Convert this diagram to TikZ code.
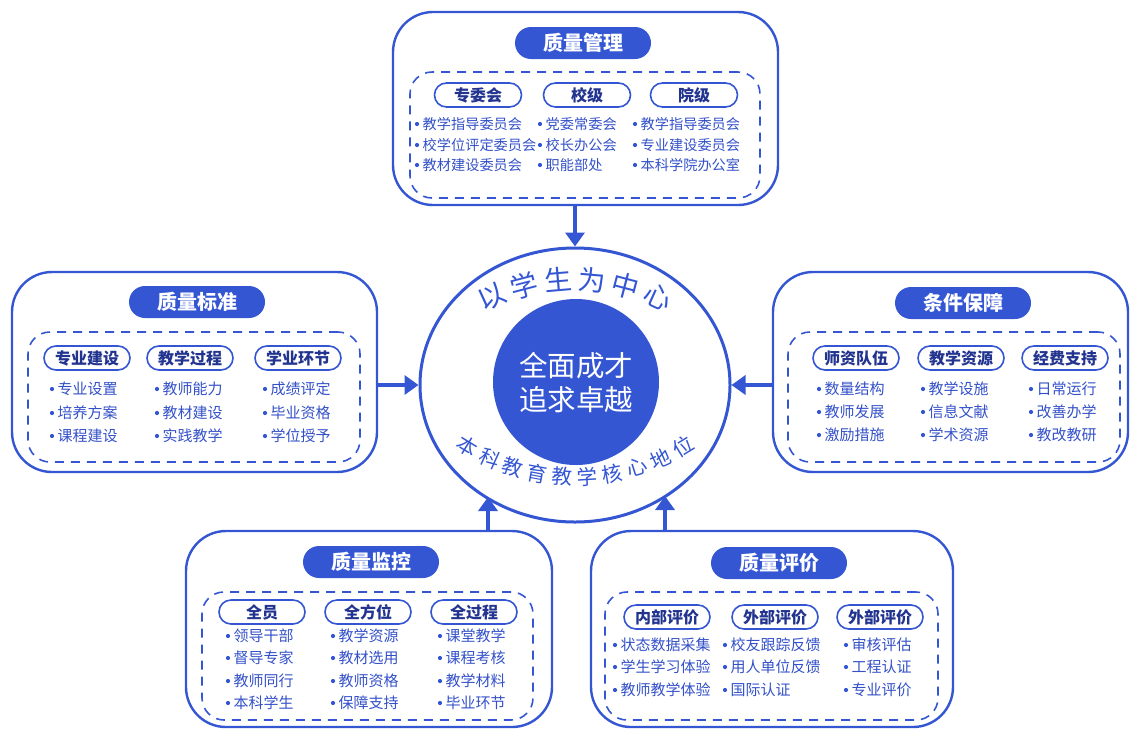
\documentclass[tikz,border=0pt]{standalone}
\usepackage{fontspec}
\newfontfamily\cjk{Noto Sans CJK SC}
\usetikzlibrary{shapes.geometric,arrows.meta}
\definecolor{qb}{HTML}{3456D3}
\definecolor{qt}{HTML}{3350C8}
\definecolor{qd}{HTML}{22348F}
\tikzset{
  outer/.style={draw=qb, line width=2.4pt, rounded corners=40pt, inner sep=0pt},
  inner/.style={draw=qb, line width=1.6pt, dash pattern=on 9pt off 7pt, rounded corners=22pt, inner sep=0pt},
  ttl/.style={fill=qb, text=white, rounded corners=16pt, minimum width=136pt, minimum height=32pt, inner sep=0pt, font=\cjk\bfseries\fontsize{20}{20}\selectfont},
  sub/.style={draw=qb, fill=white, text=qd, line width=1.6pt, rounded corners=12pt, minimum width=86pt, minimum height=24pt, inner sep=0pt, font=\cjk\bfseries\fontsize{16}{16}\selectfont},
  item/.style={anchor=west, text=qt, inner sep=0pt, font=\cjk\fontsize{15}{15}\selectfont},
  items/.style={item, font=\cjk\fontsize{14.2}{14.2}\selectfont},
  arr/.style={draw=qb, line width=3.5pt, -{Triangle[length=14pt,width=19pt]}},
  arct/.style={text=qb, inner sep=-1pt, font=\cjk\fontsize{27.5}{27.5}\selectfont},
  arcb/.style={text=qb, inner sep=-1.5pt, font=\cjk\fontsize{20.5}{20.5}\selectfont}
}
\newcommand\itm[5][item]{\fill[qb] (#3,#4) circle (2.1pt); \node[#1] (#2) at ({#3+5.5},#4) {#5};}
\begin{document}
\begin{tikzpicture}[x=1pt,y=-1pt]
\useasboundingbox (0,0) rectangle (1131,729);
% ---------- center ----------
\node[draw=qb, line width=3pt, ellipse, minimum width=310pt, minimum height=274pt, inner sep=0pt] (e) at (575,385) {};
\node[circle, fill=qb, minimum size=166pt, inner sep=0pt] (c) at (576,382) {};
\node[text=white, align=center, inner sep=0pt, font=\cjk\fontsize{28.5}{34}\selectfont] (ct) at (576,383) {全面成才\\追求卓越};
\foreach \ch [count=\i] in {以,学,生,为,中,心}{
  \pgfmathsetmacro\a{-24.5+9.8*(\i-1)}
  \node[arct, rotate=-\a] (t\i) at ({575+200*sin(\a)},{479-200*cos(\a)}) {\ch};
}
\foreach \ch [count=\i] in {本,科,教,育,教,学,核,心,地,位}{
  \pgfmathsetmacro\a{-31.5+7*(\i-1)}
  \node[arcb, rotate=\a] (b\i) at ({575+206*sin(\a)},{271+206*cos(\a)}) {\ch};
}
% ---------- top: 质量管理 ----------
\node[outer, minimum width=385pt, minimum height=193pt] (top) at (585.5,108.5) {};
\node[inner, minimum width=350pt, minimum height=126pt] (topd) at (585,135) {};
\node[ttl] (topt) at (583,43) {质量管理};
\node[sub, minimum width=87pt] (tops1) at (478,95) {专委会};
\node[sub, minimum width=87pt] (tops2) at (587,95) {校级};
\node[sub, minimum width=87pt] (tops3) at (694,95) {院级};
\itm[items]{ta1}{417}{124}{教学指导委员会}
\itm[items]{ta2}{417}{145}{校学位评定委员会}
\itm[items]{ta3}{417}{165}{教材建设委员会}
\itm[items]{tb1}{540}{124}{党委常委会}
\itm[items]{tb2}{540}{145}{校长办公会}
\itm[items]{tb3}{540}{165}{职能部处}
\itm[items]{tc1}{635}{124}{教学指导委员会}
\itm[items]{tc2}{635}{145}{专业建设委员会}
\itm[items]{tc3}{635}{165}{本科学院办公室}
% ---------- left: 质量标准 ----------
\node[outer, minimum width=365pt, minimum height=200pt] (lft) at (194.5,372) {};
\node[inner, minimum width=332pt, minimum height=130pt] (lftd) at (194,397) {};
\node[ttl] (lftt) at (197,302) {质量标准};
\node[sub] (lfts1) at (87,358) {专业建设};
\node[sub] (lfts2) at (190,358) {教学过程};
\node[sub] (lfts3) at (298,358) {学业环节};
\itm{la1}{52}{389}{专业设置}
\itm{la2}{52}{413}{培养方案}
\itm{la3}{52}{436}{课程建设}
\itm{lb1}{157}{389}{教师能力}
\itm{lb2}{157}{413}{教材建设}
\itm{lb3}{157}{436}{实践教学}
\itm{lc1}{265}{389}{成绩评定}
\itm{lc2}{265}{413}{毕业资格}
\itm{lc3}{265}{436}{学位授予}
% ---------- right: 条件保障 ----------
\node[outer, minimum width=355pt, minimum height=200pt] (rgt) at (950.5,372) {};
\node[inner, minimum width=332pt, minimum height=130pt] (rgtd) at (954,397) {};
\node[ttl] (rgtt) at (963,303) {条件保障};
\node[sub] (rgts1) at (856,358) {师资队伍};
\node[sub] (rgts2) at (961,358) {教学资源};
\node[sub] (rgts3) at (1065,358) {经费支持};
\itm{ra1}{819}{389}{数量结构}
\itm{ra2}{819}{412}{教师发展}
\itm{ra3}{819}{435}{激励措施}
\itm{rb1}{923}{389}{教学设施}
\itm{rb2}{923}{412}{信息文献}
\itm{rb3}{923}{435}{学术资源}
\itm{rc1}{1031}{389}{日常运行}
\itm{rc2}{1031}{412}{改善办学}
\itm{rc3}{1031}{435}{教改教研}
% ---------- bottom left: 质量监控 ----------
\node[outer, minimum width=366pt, minimum height=196pt] (bl) at (369,629) {};
\node[inner, minimum width=331pt, minimum height=128pt] (bld) at (367.5,656) {};
\node[ttl] (blt) at (371,562) {质量监控};
\node[sub] (bls1) at (262,612) {全员};
\node[sub] (bls2) at (368,612) {全方位};
\node[sub] (bls3) at (474,612) {全过程};
\itm{ba1}{228}{636}{领导干部}
\itm{ba2}{228}{658}{督导专家}
\itm{ba3}{228}{681}{教师同行}
\itm{ba4}{228}{703}{本科学生}
\itm{bb1}{333}{636}{教学资源}
\itm{bb2}{333}{658}{教材选用}
\itm{bb3}{333}{681}{教师资格}
\itm{bb4}{333}{703}{保障支持}
\itm{bc1}{440}{636}{课堂教学}
\itm{bc2}{440}{658}{课程考核}
\itm{bc3}{440}{681}{教学材料}
\itm{bc4}{440}{703}{毕业环节}
% ---------- bottom right: 质量评价 ----------
\node[outer, minimum width=362pt, minimum height=196pt] (br) at (772,629) {};
\node[inner, minimum width=333pt, minimum height=128pt] (brd) at (771.5,656) {};
\node[ttl] (brt) at (779,563) {质量评价};
\node[sub] (brs1) at (667,617) {内部评价};
\node[sub] (brs2) at (775,617) {外部评价};
\node[sub] (brs3) at (880,617) {外部评价};
\itm{pa1}{615}{645}{状态数据采集}
\itm{pa2}{615}{667}{学生学习体验}
\itm{pa3}{615}{690}{教师教学体验}
\itm{pb1}{725}{645}{校友跟踪反馈}
\itm{pb2}{725}{667}{用人单位反馈}
\itm{pb3}{725}{690}{国际认证}
\itm{pc1}{846}{645}{审核评估}
\itm{pc2}{846}{667}{工程认证}
\itm{pc3}{846}{690}{专业评价}
% ---------- arrows ----------
\coordinate (eb1) at (488,497);
\coordinate (eb2) at (665,496);
\draw[arr] (e.north |- top.south) -- (e.north);
\draw[arr] (lft.east |- e.west) -- (e.west);
\draw[arr] (rgt.west |- e.east) -- (e.east);
\draw[arr] (eb1 |- bl.north) -- (eb1);
\draw[arr] (eb2 |- br.north) -- (eb2);
\end{tikzpicture}
\end{document}
